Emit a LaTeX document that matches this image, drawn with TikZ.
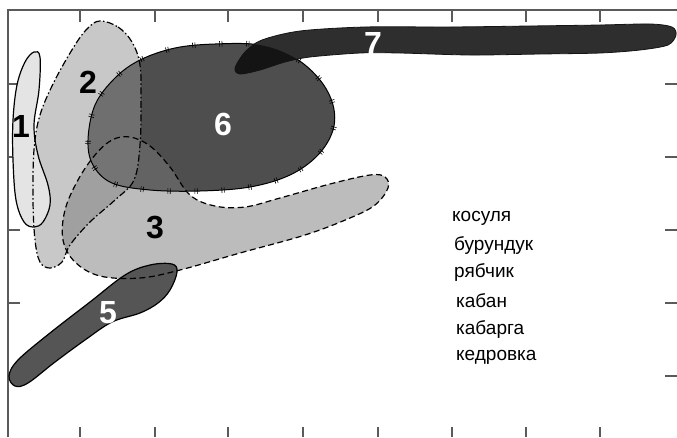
\documentclass[tikz,border=0pt]{standalone}
\usepackage{fontspec}
\setmainfont{Liberation Sans}
\usetikzlibrary{decorations.markings}
\definecolor{areaOne}{RGB}{228,228,228}
\definecolor{areaTwo}{RGB}{145,145,145}
\definecolor{areaThree}{RGB}{121,121,121}
\definecolor{areaFive}{RGB}{85,85,85}
\definecolor{areaSix}{RGB}{78,78,78}
\definecolor{areaSeven}{RGB}{46,46,46}
\definecolor{areaDeep}{RGB}{20,20,20}
\definecolor{axisGray}{RGB}{90,90,90}
% outlines of the ranges
\def\rangeone{plot[smooth cycle,tension=0.6] coordinates {(34,52) (40,57) (39,90) (34,125) (38,155) (48,185) (50,205) (43,222) (34,227) (24,222) (16,200) (13,160) (13,120) (17,85) (25,62)}}
\def\rangetwo{plot[smooth cycle,tension=0.6] coordinates {(100,21) (118,27) (132,42) (140,65) (141,100) (140,145) (134,180) (115,200) (90,222) (70,245) (62,262) (50,268) (40,262) (35,240) (33,200) (34,150) (40,115) (55,80) (75,45) (88,28)}}
\def\rangethree{plot[smooth cycle,tension=0.6] coordinates {(130,137) (150,146) (170,167) (190,195) (215,206) (245,207) (280,198) (330,184) (370,175) (385,177) (388,188) (375,205) (350,218) (305,235) (240,253) (180,270) (140,278) (100,276) (75,262) (63,240) (65,210) (78,180) (95,155) (112,140)}}
\def\rangefive{plot[smooth cycle,tension=0.6] coordinates {(150,265) (172,264) (177,272) (170,290) (158,303) (140,313) (112,322) (85,340) (55,362) (28,383) (15,386) (9,376) (18,360) (50,333) (90,302) (125,275)}}
\def\rangesix{plot[smooth cycle,tension=0.6] coordinates {(88,140) (95,105) (115,78) (140,60) (175,48) (215,44) (260,45) (295,58) (320,80) (333,105) (333,130) (318,155) (290,175) (250,187) (200,191) (150,190) (112,183) (93,165)}}
\def\rangeseven{plot[smooth cycle,tension=0.5] coordinates {(235,68) (245,52) (262,40) (300,31) (365,27) (450,27) (530,26) (600,25) (650,24) (672,27) (676,35) (668,45) (640,50) (600,53) (540,54) (470,55) (400,53) (360,53) (310,57) (285,62) (260,70) (240,74)}}
\tikzset{
  solidline/.style={draw=black, line width=1.2pt},
  dashline/.style={draw=black, line width=1.2pt, dash pattern=on 6pt off 3.5pt},
  dotdashline/.style={draw=black, line width=1.2pt, dash pattern=on 7pt off 2.5pt on 1.5pt off 2.5pt},
  tickline/.style={draw=black, line width=1pt,
    postaction={decorate, decoration={markings,
      mark=between positions 0.02 and 1 step 27pt with {
        \draw[line width=0.6pt] (-1.2pt,-2.8pt) -- (-1.2pt,2.8pt)
                                (1.2pt,-2.8pt) -- (1.2pt,2.8pt);}}}},
  axisline/.style={draw=axisGray, line width=1.2pt},
  numlabel/.style={font=\fontsize{32}{34}\selectfont\bfseries, inner sep=0pt},
  namelabel/.style={font=\fontsize{19}{21}\selectfont, anchor=west, inner sep=0pt},
}
\begin{document}
\begin{tikzpicture}[x=1pt,y=-1pt]
  \useasboundingbox (0,0) rectangle (677,437);

  % frame and ticks
  \draw[axisline] (8,437) -- (8,10) -- (677,10);
  \foreach \x in {80,155,228,303,378,452,526,600} {
    \draw[axisline] (\x,10) -- (\x,22);
    \draw[axisline] (\x,427) -- (\x,437);
  }
  \foreach \y in {84,157,230,303,376} {
    \draw[axisline] (8,\y) -- (20,\y);
    \draw[axisline] (665,\y) -- (677,\y);
  }

  % fills
  \fill[areaSix] \rangesix;
  \fill[areaTwo, fill opacity=0.5] \rangetwo;
  \fill[areaThree, fill opacity=0.5] \rangethree;
  \fill[areaOne] \rangeone;
  \fill[areaFive] \rangefive;

  % outlines
  \path[solidline] \rangeone;
  \path[dotdashline] \rangetwo;
  \path[tickline] \rangesix;
  \path[dashline] \rangethree;
  \path[solidline] \rangefive;

  % band 7 and its part over 6
  \fill[areaSeven] \rangeseven;
  \begin{scope}
    \clip \rangesix;
    \fill[areaDeep] \rangeseven;
  \end{scope}
  \path[draw=areaDeep, line width=0.8pt] \rangeseven;

  % numbers
  \node[numlabel] (n1) at (21,126) {1};
  \node[numlabel] (n2) at (88,82) {2};
  \node[numlabel] (n3) at (155,228) {3};
  \node[numlabel, text=white] (n5) at (108,313) {5};
  \node[numlabel, text=white] (n6) at (223,124) {6};
  \node[numlabel, text=white] (n7) at (373,43) {7};

  % species
  \node[namelabel] (kosulya)   at (452,218) {косуля};
  \node[namelabel] (burunduk)  at (454,245) {бурундук};
  \node[namelabel] (ryabchik)  at (454,272) {рябчик};
  \node[namelabel] (kaban)     at (456,301) {кабан};
  \node[namelabel] (kabarga)   at (456,329) {кабарга};
  \node[namelabel] (kedrovka)  at (456,357) {кедровка};
\end{tikzpicture}
\end{document}
